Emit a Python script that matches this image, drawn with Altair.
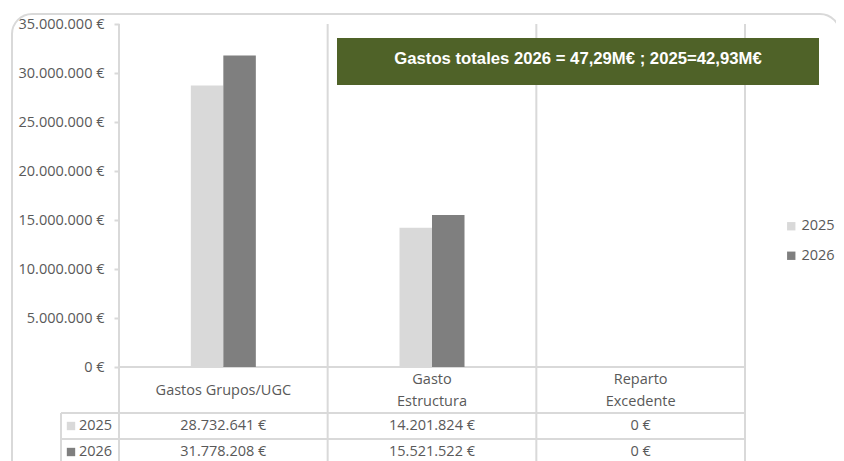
import altair as alt
import pandas as pd

# ---- data ----
categories = ["Gastos Grupos/UGC", "Gasto\nEstructura", "Reparto\nExcedente"]
years = ["2025", "2026"]
values_2025 = [28732641, 14201824, 0]
values_2026 = [31778208, 15521522, 0]
year_colors = ["#d9d9d9", "#7f7f7f"]
y_ticks = [0, 5000000, 10000000, 15000000, 20000000, 25000000, 30000000, 35000000]
banner_text = "Gastos totales 2026 = 47,29M€ ; 2025=42,93M€"

rows = []
for c, a, b in zip(categories, values_2025, values_2026):
    rows.append({"cat": c, "year": years[0], "value": a})
    rows.append({"cat": c, "year": years[1], "value": b})
df = pd.DataFrame(rows)
cat_df = pd.DataFrame({"cat": categories})
one = alt.Data(values=[{}])

W, H = 626, 343
BAND = W / 3
BARW = 32.5
FONT = "Open Sans"
TXT = "#595959"
GRID = "#d9d9d9"
FS = 14.5

xenc = alt.X("cat:N", sort=categories,
             scale=alt.Scale(paddingInner=0, paddingOuter=0), axis=None)

# outer rounded border
border = alt.Chart(one).mark_rect(
    cornerRadius=20, fill="white", fillOpacity=0, stroke=GRID, strokeWidth=2
).encode(x=alt.value(-107), x2=alt.value(721), y=alt.value(-10), y2=alt.value(475))

# vertical category boundary lines
vlines = alt.Chart(cat_df).mark_rule(color=GRID, strokeWidth=2).encode(
    x=alt.X("cat:N", sort=categories, scale=alt.Scale(paddingInner=0, paddingOuter=0),
            axis=None, bandPosition=0),
    y=alt.value(0), y2=alt.value(480))
vright = alt.Chart(one).mark_rule(color=GRID, strokeWidth=2).encode(
    x=alt.value(W), y=alt.value(0), y2=alt.value(480))

def hline(y, x0):
    return alt.Chart(one).mark_rule(color=GRID, strokeWidth=2).encode(
        x=alt.value(x0), x2=alt.value(W), y=alt.value(y))

hl = [hline(H, 0), hline(389, -58), hline(415, -58), hline(441, -58)]
vleft = alt.Chart(one).mark_rule(color=GRID, strokeWidth=2).encode(
    x=alt.value(-58), y=alt.value(389), y2=alt.value(480))

bars = alt.Chart(df).mark_bar().encode(
    x=xenc,
    xOffset=alt.XOffset("year:N", sort=years,
                        scale=alt.Scale(range=[BAND / 2 - BARW, BAND / 2 + BARW],
                                        paddingOuter=0, paddingInner=0)),
    y=alt.Y("value:Q", scale=alt.Scale(domain=[0, 35000000], nice=False),
            axis=alt.Axis(values=y_ticks, format="$,.0f", title=None, grid=False,
                          domain=False, tickColor=GRID, tickSize=5, tickWidth=2,
                          labelPadding=10, labelFontSize=FS, labelColor=TXT,
                          labelFont=FONT)),
    color=alt.Color("year:N", sort=years,
                    scale=alt.Scale(domain=years, range=year_colors),
                    legend=alt.Legend(title=None, orient="none", legendX=665,
                                      legendY=195, symbolType="square",
                                      symbolSize=70, symbolStrokeWidth=0,
                                      labelFontSize=FS, labelColor=TXT,
                                      labelFont=FONT, rowPadding=14.5,
                                      labelOffset=3)),
)

label_base = alt.Chart(cat_df).mark_text(
    lineBreak="\n", lineHeight=22, fontSize=FS, color=TXT, font=FONT, baseline="middle"
)
cat_labels_1 = label_base.transform_filter(
    "indexof(datum.cat, '\\n') < 0").encode(x=xenc, text="cat:N", y=alt.value(367))
cat_labels_2 = label_base.transform_filter(
    "indexof(datum.cat, '\\n') >= 0").encode(x=xenc, text="cat:N", y=alt.value(356))

table_layers = []
for i, yr in enumerate(years):
    ypix = 402 + 26 * i
    table_layers.append(
        alt.Chart(df).transform_filter(alt.datum.year == yr).mark_text(
            fontSize=FS, color=TXT, font=FONT, baseline="middle"
        ).encode(x=xenc, y=alt.value(ypix),
                 text=alt.Text("value:Q", format="$,.0f")))
    table_layers.append(
        alt.Chart(pd.DataFrame({"year": [yr]})).mark_square(
            size=70, filled=True, opacity=1, color=year_colors[i]
        ).encode(x=alt.value(-48), y=alt.value(ypix)))
    table_layers.append(
        alt.Chart(pd.DataFrame({"year": [yr]})).mark_text(
            fontSize=FS, color=TXT, font=FONT, baseline="middle", align="left"
        ).encode(x=alt.value(-40), y=alt.value(ypix), text="year:N"))

banner = alt.Chart(one).mark_rect(color="#4f6228").encode(
    x=alt.value(218), x2=alt.value(700), y=alt.value(14), y2=alt.value(61))
banner_txt = alt.Chart(alt.Data(values=[{"t": banner_text}])).mark_text(
    color="white", fontWeight="bold", fontSize=16.7, font="Liberation Sans",
    baseline="alphabetic", align="center"
).encode(x=alt.value(459), y=alt.value(40), text="t:N")

chart = alt.layer(
    border, vlines, vright, vleft, *hl, bars, cat_labels_1, cat_labels_2,
    *table_layers, banner, banner_txt
).properties(
    width=W, height=H,
    autosize=alt.AutoSizeParams(type="none"),
    padding={"left": 111, "top": 16, "right": 91, "bottom": 94},
).configure(
    locale={"number": {"decimal": ",", "thousands": ".", "grouping": [3],
                       "currency": ["", " €"]}}
).configure_view(stroke=None)

chart.save("out.html", embed_options={"renderer": "svg", "actions": False})
